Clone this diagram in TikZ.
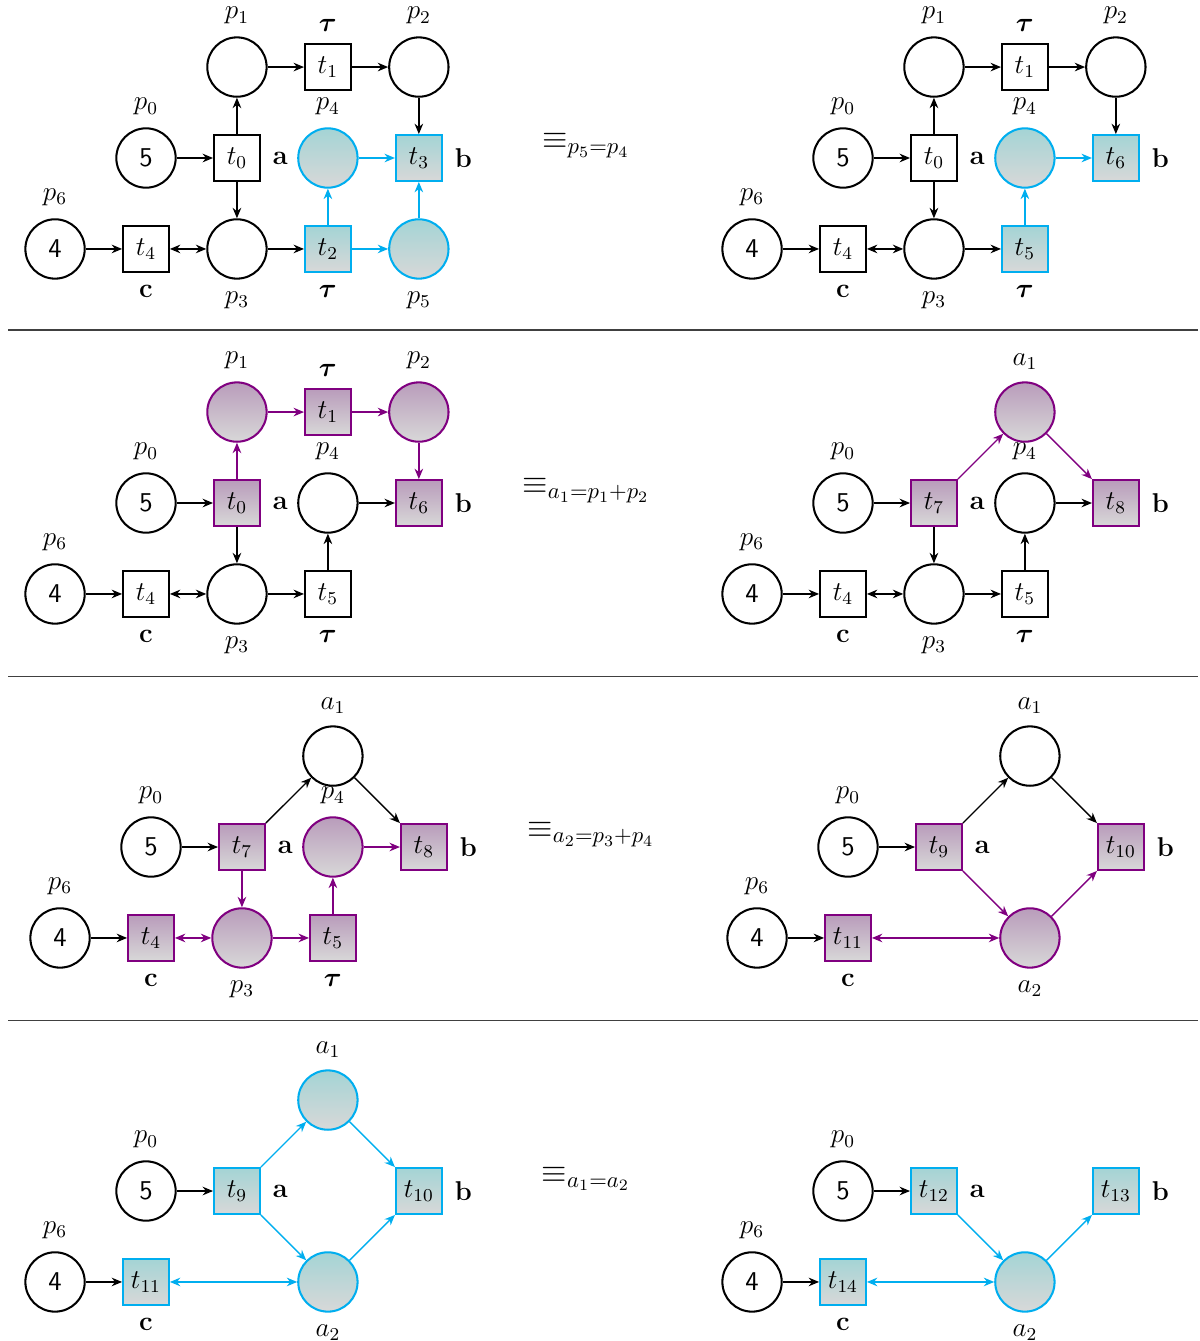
\documentclass[tikz,border=0pt]{standalone}
\usepackage{amsmath,amssymb}
\usepackage{bm}
\usepackage{xcolor}
\usepackage{tikz}
\usetikzlibrary{arrows.meta, positioning}
\definecolor{netcyan}{RGB}{0,174,239}
\definecolor{netpurple}{RGB}{128,0,128}
\definecolor{cyantop}{RGB}{164,212,213}
\definecolor{purpletop}{RGB}{185,156,187}
\definecolor{shadebottom}{RGB}{216,216,216}
\tikzset{
  place/.style={draw, circle, line width=0.9pt, minimum size=9.2mm, inner sep=0pt},
  trans/.style={draw, rectangle, line width=0.9pt, minimum size=7.1mm, inner sep=0pt},
  hot/.style={draw=netcyan, top color=cyantop, bottom color=shadebottom},
  merged/.style={draw=netpurple, top color=purpletop, bottom color=shadebottom},
  arc/.style={-{Stealth[length=4.6pt, width=3.8pt]}, line width=0.6pt},
  biarc/.style={{Stealth[length=4.6pt, width=3.8pt]}-{Stealth[length=4.6pt, width=3.8pt]}, line width=0.6pt},
  equiv/.style={font=\Large},
  rule/.style={line width=0.45pt, black!75},
  every node/.style={font=\large},
  every label/.style={font=\large}
}
\newcommand{\tok}[1]{\textsf{#1}}

\begin{document}
\begin{tikzpicture}[x=0.0155cm, y=-0.0155cm, node distance=1.41cm and 1.41cm, on grid, label distance=1.8pt]
    \useasboundingbox (0,0) rectangle (1200,1341);

    % row 1, left
    \node[place, label=above:$p_0$] (l1p0) at (146,158) {\tok{5}};
    \node[trans, right=of l1p0, label=right:\textbf{a}] (l1t0) {$t_0$};
    \node[place, hot, right=of l1t0, label=above:$p_4$] (l1p4) {};
    \node[trans, hot, right=of l1p4, label=right:\textbf{b}] (l1t3) {$t_3$};
    \node[place, above=of l1t0, label=above:$p_1$] (l1p1) {};
    \node[trans, right=of l1p1, label=above:$\bm{\tau}$] (l1t1) {$t_1$};
    \node[place, right=of l1t1, label=above:$p_2$] (l1p2) {};
    \node[place, below=of l1t0, label=below:$p_3$] (l1p3) {};
    \node[trans, left=of l1p3, label=below:\textbf{c}] (l1t4) {$t_4$};
    \node[place, left=of l1t4, label=above:$p_6$] (l1p6) {\tok{4}};
    \node[trans, hot, right=of l1p3, label=below:$\bm{\tau}$] (l1t2) {$t_2$};
    \node[place, hot, right=of l1t2, label=below:$p_5$] (l1p5) {};
    \draw[arc] (l1p0) -- (l1t0);
    \draw[arc] (l1t0) -- (l1p1);
    \draw[arc] (l1p1) -- (l1t1);
    \draw[arc] (l1t1) -- (l1p2);
    \draw[arc] (l1p2) -- (l1t3);
    \draw[arc] (l1t0) -- (l1p3);
    \draw[arc] (l1p6) -- (l1t4);
    \draw[biarc] (l1t4) -- (l1p3);
    \draw[arc] (l1p3) -- (l1t2);
    \draw[arc, netcyan] (l1t2) -- (l1p4);
    \draw[arc, netcyan] (l1t2) -- (l1p5);
    \draw[arc, netcyan] (l1p4) -- (l1t3);
    \draw[arc, netcyan] (l1p5) -- (l1t3);

    \node[equiv] (eq1) at (586,146) {$\equiv_{p_5=p_4}$};

    % row 1, right
    \node[place, label=above:$p_0$] (r1p0) at (843,158) {\tok{5}};
    \node[trans, right=of r1p0, label=right:\textbf{a}] (r1t0) {$t_0$};
    \node[place, hot, right=of r1t0, label=above:$p_4$] (r1p4) {};
    \node[trans, hot, right=of r1p4, label=right:\textbf{b}] (r1t6) {$t_6$};
    \node[place, above=of r1t0, label=above:$p_1$] (r1p1) {};
    \node[trans, right=of r1p1, label=above:$\bm{\tau}$] (r1t1) {$t_1$};
    \node[place, right=of r1t1, label=above:$p_2$] (r1p2) {};
    \node[place, below=of r1t0, label=below:$p_3$] (r1p3) {};
    \node[trans, left=of r1p3, label=below:\textbf{c}] (r1t4) {$t_4$};
    \node[place, left=of r1t4, label=above:$p_6$] (r1p6) {\tok{4}};
    \node[trans, hot, right=of r1p3, label=below:$\bm{\tau}$] (r1t5) {$t_5$};
    \draw[arc] (r1p0) -- (r1t0);
    \draw[arc] (r1t0) -- (r1p1);
    \draw[arc] (r1p1) -- (r1t1);
    \draw[arc] (r1t1) -- (r1p2);
    \draw[arc] (r1p2) -- (r1t6);
    \draw[arc] (r1t0) -- (r1p3);
    \draw[arc] (r1p6) -- (r1t4);
    \draw[biarc] (r1t4) -- (r1p3);
    \draw[arc] (r1p3) -- (r1t5);
    \draw[arc, netcyan] (r1t5) -- (r1p4);
    \draw[arc, netcyan] (r1p4) -- (r1t6);

    \draw[rule] (8,330) -- (1198,330);

    % row 2, left
    \node[place, label=above:$p_0$] (l2p0) at (146,503) {\tok{5}};
    \node[trans, merged, right=of l2p0, label=right:\textbf{a}] (l2t0) {$t_0$};
    \node[place, right=of l2t0, label=above:$p_4$] (l2p4) {};
    \node[trans, merged, right=of l2p4, label=right:\textbf{b}] (l2t6) {$t_6$};
    \node[place, merged, above=of l2t0, label=above:$p_1$] (l2p1) {};
    \node[trans, merged, right=of l2p1, label=above:$\bm{\tau}$] (l2t1) {$t_1$};
    \node[place, merged, right=of l2t1, label=above:$p_2$] (l2p2) {};
    \node[place, below=of l2t0, label=below:$p_3$] (l2p3) {};
    \node[trans, left=of l2p3, label=below:\textbf{c}] (l2t4) {$t_4$};
    \node[place, left=of l2t4, label=above:$p_6$] (l2p6) {\tok{4}};
    \node[trans, right=of l2p3, label=below:$\bm{\tau}$] (l2t5) {$t_5$};
    \draw[arc] (l2p0) -- (l2t0);
    \draw[arc, netpurple] (l2t0) -- (l2p1);
    \draw[arc, netpurple] (l2p1) -- (l2t1);
    \draw[arc, netpurple] (l2t1) -- (l2p2);
    \draw[arc, netpurple] (l2p2) -- (l2t6);
    \draw[arc] (l2t0) -- (l2p3);
    \draw[arc] (l2p6) -- (l2t4);
    \draw[biarc] (l2t4) -- (l2p3);
    \draw[arc] (l2p3) -- (l2t5);
    \draw[arc] (l2t5) -- (l2p4);
    \draw[arc] (l2p4) -- (l2t6);

    \node[equiv] (eq2) at (586,491) {$\equiv_{a_1=p_1+p_2}$};

    % row 2, right
    \node[place, label=above:$p_0$] (r2p0) at (843,503) {\tok{5}};
    \node[trans, merged, right=of r2p0, label=right:\textbf{a}] (r2t7) {$t_7$};
    \node[place, right=of r2t7, label=above:$p_4$] (r2p4) {};
    \node[trans, merged, right=of r2p4, label=right:\textbf{b}] (r2t8) {$t_8$};
    \node[place, merged, above=of r2p4, label=above:$a_1$] (r2a1) {};
    \node[place, below=of r2t7, label=below:$p_3$] (r2p3) {};
    \node[trans, left=of r2p3, label=below:\textbf{c}] (r2t4) {$t_4$};
    \node[place, left=of r2t4, label=above:$p_6$] (r2p6) {\tok{4}};
    \node[trans, right=of r2p3, label=below:$\bm{\tau}$] (r2t5) {$t_5$};
    \draw[arc] (r2p0) -- (r2t7);
    \draw[arc, netpurple] (r2t7) -- (r2a1);
    \draw[arc, netpurple] (r2a1) -- (r2t8);
    \draw[arc] (r2t7) -- (r2p3);
    \draw[arc] (r2p6) -- (r2t4);
    \draw[biarc] (r2t4) -- (r2p3);
    \draw[arc] (r2p3) -- (r2t5);
    \draw[arc] (r2t5) -- (r2p4);
    \draw[arc] (r2p4) -- (r2t8);

    \draw[rule] (8,676) -- (1198,676);

    % row 3, left
    \node[place, label=above:$p_0$] (l3p0) at (151,847) {\tok{5}};
    \node[trans, merged, right=of l3p0, label=right:\textbf{a}] (l3t7) {$t_7$};
    \node[place, merged, right=of l3t7, label=above:$p_4$] (l3p4) {};
    \node[trans, merged, right=of l3p4, label=right:\textbf{b}] (l3t8) {$t_8$};
    \node[place, above=of l3p4, label=above:$a_1$] (l3a1) {};
    \node[place, merged, below=of l3t7, label=below:$p_3$] (l3p3) {};
    \node[trans, merged, left=of l3p3, label=below:\textbf{c}] (l3t4) {$t_4$};
    \node[place, left=of l3t4, label=above:$p_6$] (l3p6) {\tok{4}};
    \node[trans, merged, right=of l3p3, label=below:$\bm{\tau}$] (l3t5) {$t_5$};
    \draw[arc] (l3p0) -- (l3t7);
    \draw[arc] (l3t7) -- (l3a1);
    \draw[arc] (l3a1) -- (l3t8);
    \draw[arc, netpurple] (l3t7) -- (l3p3);
    \draw[arc] (l3p6) -- (l3t4);
    \draw[biarc, netpurple] (l3t4) -- (l3p3);
    \draw[arc, netpurple] (l3p3) -- (l3t5);
    \draw[arc, netpurple] (l3t5) -- (l3p4);
    \draw[arc, netpurple] (l3p4) -- (l3t8);

    \node[equiv] (eq3) at (591,835) {$\equiv_{a_2=p_3+p_4}$};

    % row 3, right
    \node[place, label=above:$p_0$] (r3p0) at (848,847) {\tok{5}};
    \node[trans, merged, right=of r3p0, label=right:\textbf{a}] (r3t9) {$t_9$};
    \node[place, above right=of r3t9, label=above:$a_1$] (r3a1) {};
    \node[place, merged, below right=of r3t9, label=below:$a_2$] (r3a2) {};
    \node[trans, merged, below right=of r3a1, label=right:\textbf{b}] (r3t10) {$t_{10}$};
    \node[trans, merged, below=of r3p0, label=below:\textbf{c}] (r3t11) {$t_{11}$};
    \node[place, left=of r3t11, label=above:$p_6$] (r3p6) {\tok{4}};
    \draw[arc] (r3p0) -- (r3t9);
    \draw[arc] (r3t9) -- (r3a1);
    \draw[arc] (r3a1) -- (r3t10);
    \draw[arc, netpurple] (r3t9) -- (r3a2);
    \draw[arc, netpurple] (r3a2) -- (r3t10);
    \draw[biarc, netpurple] (r3t11) -- (r3a2);
    \draw[arc] (r3p6) -- (r3t11);

    \draw[rule] (8,1020) -- (1198,1020);

    % row 4, left
    \node[place, label=above:$p_0$] (l4p0) at (146,1191) {\tok{5}};
    \node[trans, hot, right=of l4p0, label=right:\textbf{a}] (l4t9) {$t_9$};
    \node[place, hot, above right=of l4t9, label=above:$a_1$] (l4a1) {};
    \node[place, hot, below right=of l4t9, label=below:$a_2$] (l4a2) {};
    \node[trans, hot, below right=of l4a1, label=right:\textbf{b}] (l4t10) {$t_{10}$};
    \node[trans, hot, below=of l4p0, label=below:\textbf{c}] (l4t11) {$t_{11}$};
    \node[place, left=of l4t11, label=above:$p_6$] (l4p6) {\tok{4}};
    \draw[arc] (l4p0) -- (l4t9);
    \draw[arc, netcyan] (l4t9) -- (l4a1);
    \draw[arc, netcyan] (l4a1) -- (l4t10);
    \draw[arc, netcyan] (l4t9) -- (l4a2);
    \draw[arc, netcyan] (l4a2) -- (l4t10);
    \draw[biarc, netcyan] (l4t11) -- (l4a2);
    \draw[arc] (l4p6) -- (l4t11);

    \node[equiv] (eq4) at (586,1179) {$\equiv_{a_1=a_2}$};

    % row 4, right
    \node[place, label=above:$p_0$] (r4p0) at (843,1191) {\tok{5}};
    \node[trans, hot, right=of r4p0, label=right:\textbf{a}] (r4t12) {$t_{12}$};
    \node[place, hot, below right=of r4t12, label=below:$a_2$] (r4a2) {};
    \node[trans, hot, above right=of r4a2, label=right:\textbf{b}] (r4t13) {$t_{13}$};
    \node[trans, hot, below=of r4p0, label=below:\textbf{c}] (r4t14) {$t_{14}$};
    \node[place, left=of r4t14, label=above:$p_6$] (r4p6) {\tok{4}};
    \draw[arc] (r4p0) -- (r4t12);
    \draw[arc, netcyan] (r4t12) -- (r4a2);
    \draw[arc, netcyan] (r4a2) -- (r4t13);
    \draw[biarc, netcyan] (r4t14) -- (r4a2);
    \draw[arc] (r4p6) -- (r4t14);
\end{tikzpicture}
\end{document}
